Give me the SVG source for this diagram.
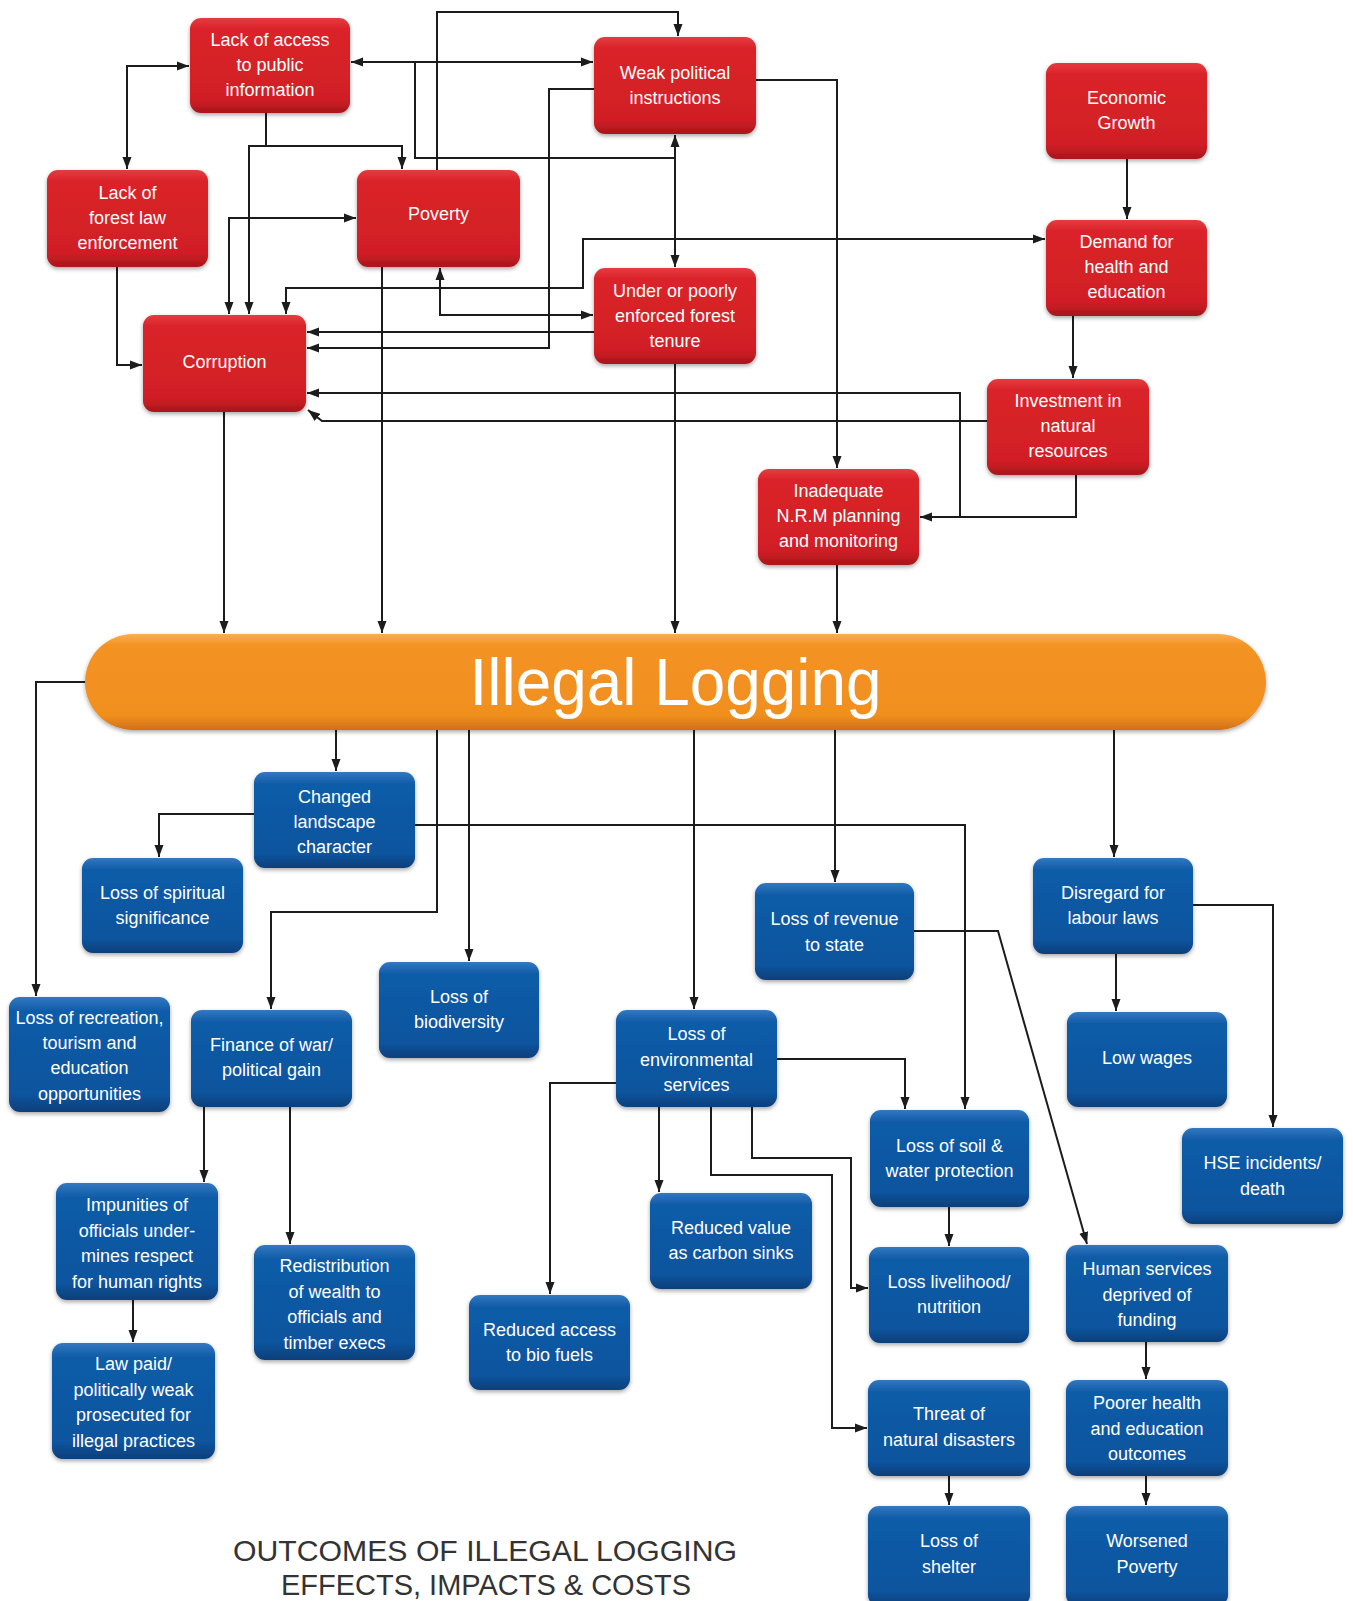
<svg xmlns="http://www.w3.org/2000/svg" width="1353" height="1601" viewBox="0 0 1353 1601">
<style>
.lbl{font-family:"Liberation Sans",Arial,sans-serif;font-size:18px;fill:#ffffff;text-anchor:middle}
.red{fill:url(#gRed)}
.blue{fill:url(#gBlue)}
.node rect{filter:url(#sh)}
.cn path{fill:none;stroke:#1c1c1c;stroke-width:2}
.cn .a{marker-end:url(#ah)}
.cn .b{marker-start:url(#ah);marker-end:url(#ah)}
.title{font-family:"Liberation Sans",Arial,sans-serif;font-size:29px;fill:#333333;text-anchor:middle}
</style>
<defs>
<linearGradient id="gRed" x1="0" y1="0" x2="0" y2="1">
<stop offset="0" stop-color="#E53C40"/><stop offset="0.12" stop-color="#DA2229"/><stop offset="0.85" stop-color="#D11F26"/><stop offset="1" stop-color="#A8161B"/>
</linearGradient>
<linearGradient id="gBlue" x1="0" y1="0" x2="0" y2="1">
<stop offset="0" stop-color="#3378C0"/><stop offset="0.12" stop-color="#115CA8"/><stop offset="0.85" stop-color="#0C549E"/><stop offset="1" stop-color="#083F7A"/>
</linearGradient>
<linearGradient id="gOr" x1="0" y1="0" x2="0" y2="1">
<stop offset="0" stop-color="#F8AE50"/><stop offset="0.12" stop-color="#F39322"/><stop offset="0.85" stop-color="#F18F1F"/><stop offset="1" stop-color="#CF7018"/>
</linearGradient>
<filter id="sh" x="-10%" y="-10%" width="120%" height="130%">
<feDropShadow dx="0" dy="2" stdDeviation="2" flood-color="#000" flood-opacity="0.35"/>
</filter>
<marker id="ah" viewBox="0 0 12 10" refX="12" refY="5" markerWidth="12" markerHeight="10" markerUnits="userSpaceOnUse" orient="auto-start-reverse">
<path d="M0,0.5 L12,5 L0,9.5 z" fill="#1c1c1c"/>
</marker>
</defs>
<rect width="1353" height="1601" fill="#ffffff"/>

<g id="connectors" class="cn">
<path class="b" d="M127,169 V66 H189"/>
<path class="b" d="M351,62 H593"/>
<path d="M415,62 V158 H675"/>
<path class="b" d="M675,135 V267"/>
<path class="a" d="M437,170 V12 H678 V36"/>
<path class="a" d="M266,113 V146 H402 V169"/>
<path class="a" d="M266,146 H249 V314"/>
<path class="b" d="M229,314 V218 H356"/>
<path class="b" d="M286,314 V288 H583 V239 H1045"/>
<path class="b" d="M440,268 V315 H593"/>
<path class="a" d="M594,332 H307"/>
<path class="a" d="M594,89 H549 V348 H307"/>
<path class="a" d="M987,421 H322 L308,410"/>
<path class="a" d="M1076,475 V517 H920"/>
<path class="a" d="M960,517 V393 H307"/>
<path class="a" d="M756,80 H837 V468"/>
<path class="a" d="M1127,159 V219"/>
<path class="a" d="M1073,316 V378"/>
<path class="a" d="M117,267 V365 H142"/>
<path class="a" d="M224,412 V633"/>
<path class="a" d="M382,267 V633"/>
<path class="a" d="M675,364 V633"/>
<path class="a" d="M837,565 V633"/>
<path class="a" d="M86,682 H36 V996"/>
<path class="a" d="M336,730 V771"/>
<path class="a" d="M437,730 V912 H271 V1009"/>
<path class="a" d="M469,730 V961"/>
<path class="a" d="M694,730 V1009"/>
<path class="a" d="M415,825 H965 V1109"/>
<path class="a" d="M254,814 H159 V857"/>
<path class="a" d="M835,730 V882"/>
<path class="a" d="M1114,730 V857"/>
<path class="a" d="M1193,905 H1273 V1127"/>
<path class="a" d="M1116,954 V1011"/>
<path class="a" d="M914,931 H998 L1087,1244"/>
<path class="a" d="M777,1059 H905 V1109"/>
<path class="a" d="M616,1083 H550 V1294"/>
<path class="a" d="M659,1107 V1192"/>
<path class="a" d="M711,1107 V1175 H832 V1428 H867"/>
<path class="a" d="M752,1107 V1158 H851 V1288 H868"/>
<path class="a" d="M949,1207 V1246"/>
<path class="a" d="M1146,1342 V1379"/>
<path class="a" d="M1146,1476 V1505"/>
<path class="a" d="M949,1476 V1505"/>
<path class="a" d="M204,1107 V1182"/>
<path class="a" d="M290,1107 V1244"/>
<path class="a" d="M133,1300 V1342"/>
</g>

<g id="n-lack-access" class="node"><rect class="red" x="190" y="18" width="160" height="95" rx="11"/>
<text class="lbl" x="270" y="46">Lack of access</text><text class="lbl" x="270" y="71">to public</text><text class="lbl" x="270" y="96">information</text></g>
<g id="n-weak-political" class="node"><rect class="red" x="594" y="37" width="162" height="97" rx="11"/>
<text class="lbl" x="675" y="79">Weak political</text><text class="lbl" x="675" y="104">instructions</text></g>
<g id="n-economic" class="node"><rect class="red" x="1046" y="63" width="161" height="96" rx="11"/>
<text class="lbl" x="1126.5" y="104">Economic</text><text class="lbl" x="1126.5" y="129">Growth</text></g>
<g id="n-lack-forest" class="node"><rect class="red" x="47" y="170" width="161" height="97" rx="11"/>
<text class="lbl" x="127.5" y="199">Lack of</text><text class="lbl" x="127.5" y="224">forest law</text><text class="lbl" x="127.5" y="249">enforcement</text></g>
<g id="n-poverty" class="node"><rect class="red" x="357" y="170" width="163" height="97" rx="11"/>
<text class="lbl" x="438.5" y="220">Poverty</text></g>
<g id="n-demand" class="node"><rect class="red" x="1046" y="220" width="161" height="96" rx="11"/>
<text class="lbl" x="1126.5" y="248">Demand for</text><text class="lbl" x="1126.5" y="273">health and</text><text class="lbl" x="1126.5" y="298">education</text></g>
<g id="n-tenure" class="node"><rect class="red" x="594" y="268" width="162" height="96" rx="11"/>
<text class="lbl" x="675" y="297">Under or poorly</text><text class="lbl" x="675" y="322">enforced forest</text><text class="lbl" x="675" y="347">tenure</text></g>
<g id="n-corruption" class="node"><rect class="red" x="143" y="315" width="163" height="97" rx="11"/>
<text class="lbl" x="224.5" y="368">Corruption</text></g>
<g id="n-investment" class="node"><rect class="red" x="987" y="379" width="162" height="96" rx="11"/>
<text class="lbl" x="1068" y="407">Investment in</text><text class="lbl" x="1068" y="432">natural</text><text class="lbl" x="1068" y="457">resources</text></g>
<g id="n-inadequate" class="node"><rect class="red" x="758" y="469" width="161" height="96" rx="11"/>
<text class="lbl" x="838.5" y="497">Inadequate</text><text class="lbl" x="838.5" y="522">N.R.M planning</text><text class="lbl" x="838.5" y="547">and monitoring</text></g>

<g id="n-illegal-logging" class="node"><rect x="85" y="634" width="1181" height="96" rx="48" fill="url(#gOr)"/>
<text x="675.5" y="705" font-family="Liberation Sans, Arial, sans-serif" font-size="66" fill="#ffffff" text-anchor="middle" textLength="412" lengthAdjust="spacingAndGlyphs">Illegal Logging</text></g>

<g id="n-changed" class="node"><rect class="blue" x="254" y="772" width="161" height="96" rx="11"/>
<text class="lbl" x="334.5" y="803">Changed</text><text class="lbl" x="334.5" y="828">landscape</text><text class="lbl" x="334.5" y="853">character</text></g>
<g id="n-spiritual" class="node"><rect class="blue" x="82" y="858" width="161" height="95" rx="11"/>
<text class="lbl" x="162.5" y="899">Loss of spiritual</text><text class="lbl" x="162.5" y="924">significance</text></g>
<g id="n-recreation" class="node"><rect class="blue" x="9" y="997" width="161" height="115" rx="11"/>
<text class="lbl" x="89.5" y="1024">Loss of recreation,</text><text class="lbl" x="89.5" y="1049">tourism and</text><text class="lbl" x="89.5" y="1074">education</text><text class="lbl" x="89.5" y="1100">opportunities</text></g>
<g id="n-finance" class="node"><rect class="blue" x="191" y="1010" width="161" height="97" rx="11"/>
<text class="lbl" x="271.5" y="1051">Finance of war/</text><text class="lbl" x="271.5" y="1076">political gain</text></g>
<g id="n-biodiversity" class="node"><rect class="blue" x="379" y="962" width="160" height="96" rx="11"/>
<text class="lbl" x="459" y="1003">Loss of</text><text class="lbl" x="459" y="1028">biodiversity</text></g>
<g id="n-env-services" class="node"><rect class="blue" x="616" y="1010" width="161" height="97" rx="11"/>
<text class="lbl" x="696.5" y="1040">Loss of</text><text class="lbl" x="696.5" y="1066">environmental</text><text class="lbl" x="696.5" y="1091">services</text></g>
<g id="n-revenue" class="node"><rect class="blue" x="755" y="883" width="159" height="97" rx="11"/>
<text class="lbl" x="834.5" y="925">Loss of revenue</text><text class="lbl" x="834.5" y="951">to state</text></g>
<g id="n-disregard" class="node"><rect class="blue" x="1033" y="858" width="160" height="96" rx="11"/>
<text class="lbl" x="1113" y="899">Disregard for</text><text class="lbl" x="1113" y="924">labour laws</text></g>
<g id="n-low-wages" class="node"><rect class="blue" x="1067" y="1012" width="160" height="95" rx="11"/>
<text class="lbl" x="1147" y="1064">Low wages</text></g>
<g id="n-soil-water" class="node"><rect class="blue" x="870" y="1110" width="159" height="97" rx="11"/>
<text class="lbl" x="949.5" y="1152">Loss of soil &amp;</text><text class="lbl" x="949.5" y="1177">water protection</text></g>
<g id="n-hse" class="node"><rect class="blue" x="1182" y="1128" width="161" height="96" rx="11"/>
<text class="lbl" x="1262.5" y="1169">HSE incidents/</text><text class="lbl" x="1262.5" y="1195">death</text></g>
<g id="n-impunities" class="node"><rect class="blue" x="56" y="1183" width="162" height="117" rx="11"/>
<text class="lbl" x="137" y="1211">Impunities of</text><text class="lbl" x="137" y="1237">officials under-</text><text class="lbl" x="137" y="1262">mines respect</text><text class="lbl" x="137" y="1288">for human rights</text></g>
<g id="n-redistribution" class="node"><rect class="blue" x="254" y="1245" width="161" height="115" rx="11"/>
<text class="lbl" x="334.5" y="1272">Redistribution</text><text class="lbl" x="334.5" y="1298">of wealth to</text><text class="lbl" x="334.5" y="1323">officials and</text><text class="lbl" x="334.5" y="1349">timber execs</text></g>
<g id="n-bio-fuels" class="node"><rect class="blue" x="469" y="1295" width="161" height="95" rx="11"/>
<text class="lbl" x="549.5" y="1336">Reduced access</text><text class="lbl" x="549.5" y="1361">to bio fuels</text></g>
<g id="n-law-paid" class="node"><rect class="blue" x="52" y="1343" width="163" height="116" rx="11"/>
<text class="lbl" x="133.5" y="1370">Law paid/</text><text class="lbl" x="133.5" y="1396">politically weak</text><text class="lbl" x="133.5" y="1421">prosecuted for</text><text class="lbl" x="133.5" y="1447">illegal practices</text></g>
<g id="n-carbon" class="node"><rect class="blue" x="650" y="1193" width="162" height="96" rx="11"/>
<text class="lbl" x="731" y="1234">Reduced value</text><text class="lbl" x="731" y="1259">as carbon sinks</text></g>
<g id="n-livelihood" class="node"><rect class="blue" x="869" y="1247" width="160" height="96" rx="11"/>
<text class="lbl" x="949" y="1288">Loss livelihood/</text><text class="lbl" x="949" y="1313">nutrition</text></g>
<g id="n-human-services" class="node"><rect class="blue" x="1066" y="1245" width="162" height="97" rx="11"/>
<text class="lbl" x="1147" y="1275">Human services</text><text class="lbl" x="1147" y="1301">deprived of</text><text class="lbl" x="1147" y="1326">funding</text></g>
<g id="n-threat" class="node"><rect class="blue" x="868" y="1380" width="162" height="96" rx="11"/>
<text class="lbl" x="949" y="1420">Threat of</text><text class="lbl" x="949" y="1446">natural disasters</text></g>
<g id="n-poorer" class="node"><rect class="blue" x="1066" y="1380" width="162" height="96" rx="11"/>
<text class="lbl" x="1147" y="1409">Poorer health</text><text class="lbl" x="1147" y="1435">and education</text><text class="lbl" x="1147" y="1460">outcomes</text></g>
<g id="n-shelter" class="node"><rect class="blue" x="868" y="1506" width="162" height="100" rx="11"/>
<text class="lbl" x="949" y="1547">Loss of</text><text class="lbl" x="949" y="1573">shelter</text></g>
<g id="n-worsened" class="node"><rect class="blue" x="1066" y="1506" width="162" height="100" rx="11"/>
<text class="lbl" x="1147" y="1547">Worsened</text><text class="lbl" x="1147" y="1573">Poverty</text></g>

<g id="title">
<text class="title" x="485" y="1561" textLength="504" lengthAdjust="spacingAndGlyphs">OUTCOMES OF ILLEGAL LOGGING</text>
<text class="title" x="486" y="1595" textLength="410" lengthAdjust="spacingAndGlyphs">EFFECTS, IMPACTS &amp; COSTS</text>
</g>
</svg>
